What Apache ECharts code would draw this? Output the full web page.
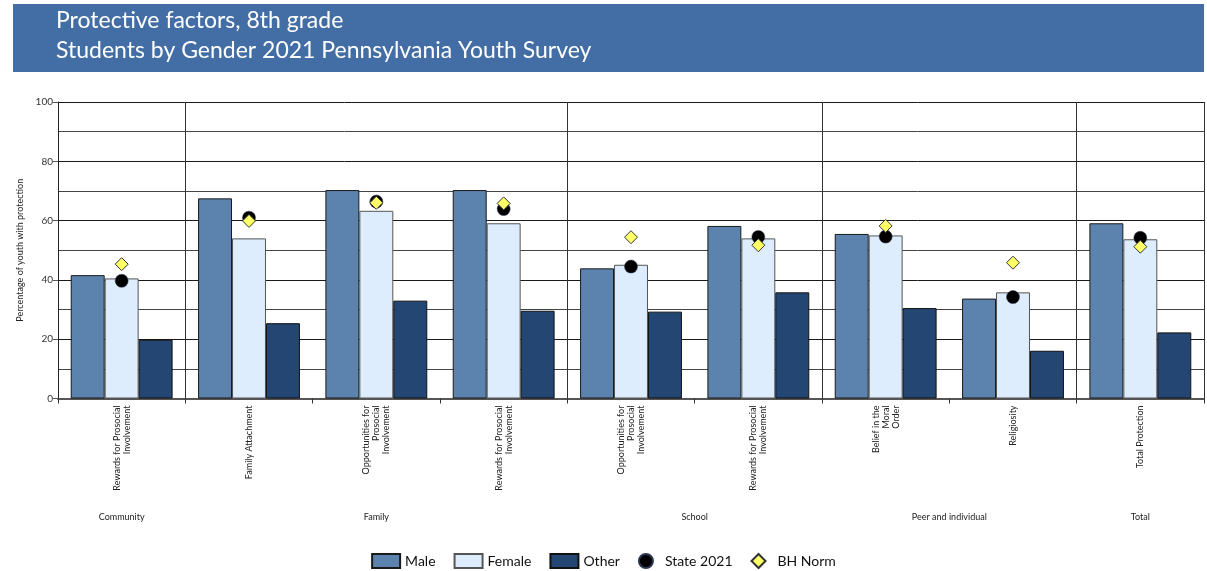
<!DOCTYPE html>
<html>
<head>
<meta charset="utf-8">
<script src="https://cdn.jsdelivr.net/npm/echarts@6/dist/echarts.min.js"></script>
<style>html,body{margin:0;padding:0;background:#fff}#c{width:1207px;height:571px}</style>
</head>
<body>
<div id="c"></div>
<script>
const titleLines = ['Protective factors, 8th grade', 'Students by Gender 2021 Pennsylvania Youth Survey'];
const categories = [
  'Rewards for Prosocial\nInvolvement',
  'Family Attachment',
  'Opportunities for\nProsocial\nInvolvement',
  'Rewards for Prosocial\nInvolvement',
  'Opportunities for\nProsocial\nInvolvement',
  'Rewards for Prosocial\nInvolvement',
  'Belief in the\nMoral\nOrder',
  'Religiosity',
  'Total Protection'
];
const groupNames = ['Community', 'Family', 'School', 'Peer and individual', 'Total'];
const groupSizes = [1, 3, 2, 2, 1];
const male   = [41.6, 67.5, 70.3, 70.3, 43.9, 58.2, 55.5, 33.7, 59.1];
const female = [40.5, 54.0, 63.3, 59.1, 45.1, 54.0, 55.0, 35.8, 53.7];
const other  = [19.8, 25.4, 33.0, 29.6, 29.3, 35.8, 30.5, 16.1, 22.3];
const state2021 = [39.7, 61.0, 66.4, 63.9, 44.5, 54.5, 54.6, 34.2, 54.2];
const bhNorm    = [45.3, 59.9, 66.0, 65.8, 54.4, 51.7, 58.2, 45.8, 51.2];
const yTicks = [0, 20, 40, 60, 80, 100];

// group boundaries and centres (in category units)
const boundaries = [];
const centres = [];
let acc = 0;
groupSizes.forEach(n => { centres.push(acc + n / 2); acc += n; boundaries.push(acc); });
const sepIdx = boundaries.slice(0, -1);

const FONT = 'Lato, "Open Sans", sans-serif';
const DIAMOND = 'path://M5,0L10,5L5,10L0,5Z';
const chart = echarts.init(document.getElementById('c'));
chart.setOption({
  animation: false,
  graphic: [
    { type: 'rect', shape: { x: 13, y: 4, width: 1191, height: 68 }, style: { fill: '#436EA5' }, z: 0 },
    { type: 'text', left: 56, top: 9, style: { text: titleLines[0], fill: '#fff', font: '23px ' + FONT }, z: 1 },
    { type: 'text', left: 56, top: 39, style: { text: titleLines[1], fill: '#fff', font: '23px ' + FONT }, z: 1 }
  ],
  grid: { left: 58, right: 3, top: 102, bottom: 172.5, containLabel: false },
  legend: {
    bottom: -3, left: 'center',
    itemWidth: 28, itemHeight: 14, itemGap: 18,
    symbolKeepAspect: true,
    textStyle: { fontFamily: FONT, fontSize: 14, color: '#111' },
    data: [
      { name: 'Male', icon: 'rect' },
      { name: 'Female', icon: 'rect' },
      { name: 'Other', icon: 'rect' },
      { name: 'State 2021', icon: 'circle' },
      { name: 'BH Norm', icon: DIAMOND }
    ]
  },
  xAxis: [
    {
      type: 'category', data: categories, boundaryGap: true,
      axisLine: { lineStyle: { color: '#555', width: 2 } },
      axisTick: { show: true, length: 5, lineStyle: { color: '#333' } },
      splitLine: { show: true, interval: (i) => sepIdx.includes(i), lineStyle: { color: '#333', width: 1 } },
      axisLabel: { rotate: 90, interval: 0, margin: 7, fontFamily: FONT, fontSize: 9, color: '#222', lineHeight: 10 }
    },
    {
      type: 'value', min: 0, max: categories.length, position: 'bottom', offset: 114,
      axisLine: { show: false }, axisTick: { show: false }, splitLine: { show: false },
      axisLabel: {
        customValues: centres, margin: 0, fontFamily: FONT, fontSize: 9, color: '#222',
        formatter: (v) => { const i = centres.indexOf(v); return i >= 0 ? groupNames[i] : ''; }
      }
    }
  ],
  yAxis: {
    type: 'value', min: 0, max: 100, interval: 20,
    name: 'Percentage of youth with protection', nameLocation: 'middle', nameGap: 31,
    nameTextStyle: { fontFamily: FONT, fontSize: 9, color: '#222' },
    axisLine: { show: true, lineStyle: { color: '#222' } },
    axisTick: { show: true, length: 5, lineStyle: { color: '#555' } },
    axisLabel: { margin: 5, fontFamily: FONT, fontSize: 10, color: '#333', customValues: yTicks },
    splitLine: { show: true, lineStyle: { color: '#1a1a1a', width: 1 } },
    minorTick: { show: false, splitNumber: 2 },
    minorSplitLine: { show: true, lineStyle: { color: '#444', width: 1 } }
  },
  series: [
    { name: 'Male', type: 'bar', data: male, barGap: '0%', barCategoryGap: '20%',
      itemStyle: { color: '#5C82AE', borderColor: '#1a1a1a', borderWidth: 1 } },
    { name: 'Female', type: 'bar', data: female,
      itemStyle: { color: '#DDEDFD', borderColor: '#555', borderWidth: 1 } },
    { name: 'Other', type: 'bar', data: other,
      itemStyle: { color: '#244672', borderColor: '#111', borderWidth: 1 } },
    { name: 'State 2021', type: 'scatter', data: state2021, symbol: 'circle', symbolSize: 13, z: 5,
      itemStyle: { color: '#000', opacity: 1, borderColor: '#2a3550', borderWidth: 0.5 } },
    { name: 'BH Norm', type: 'scatter', data: bhNorm, symbol: 'diamond', symbolSize: 13, z: 6,
      itemStyle: { color: '#FFFF66', opacity: 1, borderColor: '#333', borderWidth: 1 } }
  ]
});
</script>
</body>
</html>
